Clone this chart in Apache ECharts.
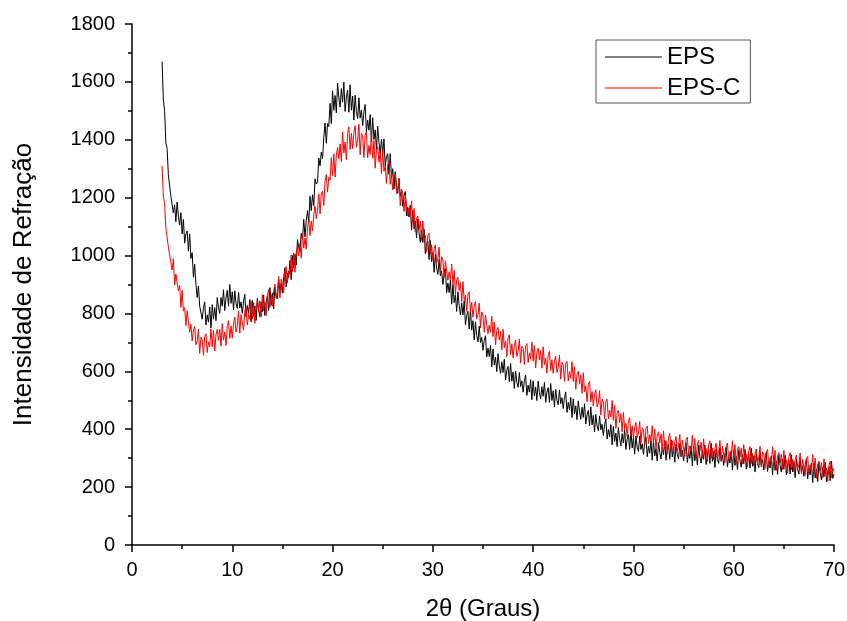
<!DOCTYPE html>
<html>
<head>
<meta charset="utf-8">
<script src="https://cdn.jsdelivr.net/npm/echarts@6/dist/echarts.min.js"></script>
<style>
  html, body { margin: 0; padding: 0; background: #fff; }
  #xrd-chart { width: 847px; height: 621px; }
</style>
</head>
<body>
<div id="xrd-chart"></div>
<script>
// scan grid: 2θ from 3 to 70 degrees, 8 readings per degree
var startAngle = 3;
var stepAngle = 0.125;

var seriesNames = ['EPS', 'EPS-C'];

// EPS, one line per degree (3 .. 69), then 70
var epsValues = [
    1670, 1540, 1500, 1390, 1370, 1280, 1275, 1205,
    1210, 1147, 1175, 1117, 1185, 1137, 1105, 1148,
    1075, 1125, 1043, 1075, 1085, 1015, 1075, 990,
    1010, 925, 970, 900, 855, 895, 825, 830,
    780, 820, 840, 760, 795, 770, 822, 750,
    830, 780, 820, 775, 855, 820, 800, 855,
    825, 882, 810, 853, 880, 825, 900, 835,
    875, 812, 878, 835, 817, 873, 819, 840,
    800, 843, 866, 789, 827, 800, 848, 771,
    845, 790, 826, 776, 852, 813, 789, 840,
    805, 864, 793, 837, 861, 810, 889, 828,
    870, 816, 892, 858, 850, 916, 872, 904,
    870, 924, 958, 892, 940, 924, 983, 917,
    1000, 957, 1005, 967, 1055, 1027, 1015, 1077,
    1055, 1125, 1065, 1120, 1155, 1115, 1205, 1155,
    1210, 1172, 1265, 1247, 1255, 1337, 1310, 1357,
    1334, 1408, 1458, 1388, 1456, 1446, 1526, 1456,
    1569, 1502, 1553, 1493, 1596, 1545, 1513, 1577,
    1530, 1599, 1498, 1548, 1571, 1495, 1590, 1502,
    1551, 1468, 1554, 1497, 1473, 1545, 1475, 1503,
    1449, 1497, 1522, 1426, 1468, 1433, 1487, 1392,
    1476, 1401, 1434, 1365, 1447, 1390, 1351, 1402,
    1353, 1403, 1310, 1341, 1352, 1281, 1352, 1269,
    1300, 1230, 1290, 1240, 1215, 1265, 1205, 1220,
    1170, 1206, 1221, 1137, 1167, 1133, 1174, 1089,
    1155, 1092, 1119, 1061, 1127, 1079, 1046, 1088,
    1045, 1091, 1007, 1039, 1050, 986, 1052, 979,
    1010, 942, 1005, 957, 935, 987, 930, 947,
    900, 937, 955, 872, 905, 872, 915, 832,
    900, 837, 865, 807, 875, 827, 795, 837,
    795, 843, 761, 794, 807, 746, 814, 742,
    775, 708, 771, 724, 702, 756, 699, 717,
    673, 707, 723, 650, 680, 651, 689, 616,
    677, 622, 649, 599, 661, 620, 593, 633,
    596, 642, 570, 603, 617, 564, 627, 566,
    598, 541, 601, 562, 545, 596, 547, 567,
    528, 566, 587, 517, 552, 528, 571, 502,
    567, 515, 546, 499, 566, 527, 504, 547,
    514, 562, 493, 528, 544, 493, 558, 499,
    533, 477, 538, 500, 484, 536, 488, 509,
    471, 509, 529, 458, 493, 467, 510, 440,
    505, 453, 481, 433, 498, 460, 434, 476,
    441, 488, 418, 450, 465, 412, 477, 415,
    448, 391, 451, 412, 395, 446, 398, 417,
    378, 416, 436, 366, 399, 373, 416, 346,
    410, 358, 387, 340, 406, 367, 342, 385,
    352, 399, 330, 365, 381, 330, 396, 335,
    370, 314, 376, 338, 323, 376, 330, 350,
    313, 353, 374, 305, 341, 317, 361, 293,
    359, 308, 332, 290, 354, 319, 297, 341,
    312, 361, 293, 329, 347, 296, 364, 304,
    340, 286, 348, 312, 297, 351, 305, 328,
    291, 331, 353, 285, 322, 299, 342, 273,
    341, 291, 322, 277, 345, 305, 283, 327,
    296, 345, 278, 313, 331, 282, 351, 289,
    324, 268, 331, 295, 282, 336, 290, 311,
    275, 315, 337, 270, 304, 283, 326, 259,
    325, 275, 306, 261, 329, 291, 269, 314,
    280, 330, 262, 297, 315, 266, 334, 272,
    308, 253, 316, 281, 267, 320, 274, 295,
    259, 299, 320, 254, 287, 266, 308, 242,
    309, 258, 290, 244, 312, 274, 252, 297,
    262, 310, 242, 276, 294, 245, 312, 253,
    288, 233, 296, 260, 245, 299, 252, 273,
    237, 277, 298, 229, 264, 242, 283, 216,
    283, 232, 263, 219, 285, 248, 225, 268,
    236, 285, 218, 253, 271, 222, 289, 230,
    245
];

// EPS-C, same grid
var epsCValues = [
    1310, 1205, 1180, 1095, 1100, 1030, 1035, 975,
    950, 989, 898, 936, 935, 878, 897, 821,
    880, 808, 820, 758, 810, 813, 735, 763,
    705, 742, 755, 692, 705, 746, 662, 718,
    710, 655, 720, 730, 665, 702, 685, 747,
    685, 742, 670, 727, 745, 707, 745, 687,
    765, 708, 736, 689, 757, 775, 714, 757,
    715, 764, 787, 736, 760, 809, 732, 796,
    795, 742, 810, 822, 760, 797, 780, 842,
    780, 838, 766, 824, 842, 806, 844, 787,
    865, 809, 839, 793, 862, 882, 821, 866,
    825, 876, 901, 852, 877, 928, 854, 919,
    920, 872, 945, 962, 905, 947, 935, 1002,
    945, 1009, 942, 1006, 1030, 999, 1042, 991,
    1075, 1026, 1061, 1022, 1097, 1123, 1069, 1119,
    1085, 1141, 1171, 1127, 1157, 1213, 1144, 1214,
    1222, 1173, 1257, 1280, 1219, 1270, 1260, 1338,
    1276, 1351, 1271, 1346, 1373, 1335, 1386, 1324,
    1427, 1354, 1392, 1332, 1421, 1445, 1366, 1423,
    1369, 1425, 1449, 1374, 1398, 1454, 1348, 1423,
    1414, 1339, 1419, 1427, 1338, 1380, 1349, 1423,
    1336, 1397, 1302, 1363, 1376, 1323, 1360, 1283,
    1364, 1291, 1312, 1249, 1314, 1324, 1246, 1283,
    1227, 1268, 1282, 1214, 1227, 1268, 1172, 1230,
    1215, 1152, 1209, 1211, 1137, 1164, 1136, 1188,
    1115, 1163, 1081, 1129, 1137, 1091, 1119, 1052,
    1120, 1052, 1070, 1012, 1070, 1077, 1005, 1037,
    985, 1024, 1037, 976, 990, 1029, 942, 996,
    985, 924, 982, 986, 915, 944, 917, 971,
    900, 949, 867, 916, 925, 879, 907, 841,
    910, 844, 863, 807, 866, 875, 804, 838,
    787, 827, 841, 781, 796, 836, 750, 805,
    795, 735, 795, 800, 730, 760, 735, 790,
    720, 771, 691, 742, 752, 708, 739, 674,
    745, 682, 704, 651, 714, 726, 658, 695,
    647, 690, 708, 651, 668, 711, 629, 687,
    680, 624, 687, 696, 630, 664, 642, 701,
    635, 689, 612, 666, 680, 639, 672, 611,
    685, 623, 646, 594, 656, 669, 602, 640,
    593, 636, 653, 596, 613, 656, 573, 631,
    623, 565, 627, 634, 567, 599, 576, 633,
    565, 616, 538, 589, 600, 556, 588, 524,
    595, 530, 550, 495, 555, 565, 495, 530,
    480, 521, 536, 477, 492, 533, 449, 504,
    495, 436, 497, 504, 435, 466, 442, 499,
    430, 482, 403, 455, 466, 423, 454, 391,
    458, 401, 421, 374, 429, 440, 379, 412,
    368, 407, 423, 371, 387, 427, 353, 405,
    398, 347, 404, 411, 351, 381, 360, 412,
    352, 400, 331, 379, 391, 353, 384, 327,
    394, 339, 360, 315, 372, 385, 325, 360,
    319, 358, 375, 325, 342, 382, 309, 362,
    357, 306, 365, 373, 313, 343, 324, 379,
    319, 368, 300, 349, 361, 324, 355, 300,
    367, 312, 334, 289, 346, 360, 300, 335,
    294, 334, 352, 303, 321, 361, 289, 341,
    335, 284, 343, 352, 292, 323, 304, 360,
    298, 347, 279, 327, 340, 304, 335, 281,
    347, 292, 314, 269, 326, 340, 281, 316,
    274, 314, 332, 283, 302, 342, 270, 322,
    315, 264, 322, 330, 271, 302, 285, 340,
    278, 327, 258, 307, 319, 283, 314, 261,
    327, 272, 294, 248, 305, 319, 260, 295,
    253, 293, 311, 261, 279, 318, 245, 296,
    292, 241, 298, 306, 246, 277, 258, 313,
    252, 300, 230, 279, 290, 256, 285, 231,
    298, 244, 266, 220, 276, 290, 232, 266,
    255
];

var xTicks = [0, 10, 20, 30, 40, 50, 60, 70];
var yTicks = [0, 200, 400, 600, 800, 1000, 1200, 1400, 1600, 1800];

function toPairs(values) {
    var out = [];
    for (var i = 0; i < values.length; i++) {
        out.push([startAngle + i * stepAngle, values[i]]);
    }
    return out;
}

var fontName = '"Liberation Sans", Arial, sans-serif';
var axisBlack = { color: '#000', width: 1.5 };

var myChart = echarts.init(document.getElementById('xrd-chart'), null, { renderer: 'canvas' });
var option = {
    animation: false,
    backgroundColor: '#fff',
    grid: { left: 132, right: 13, top: 24, bottom: 76, containLabel: false, outerBoundsMode: 'none' },
    legend: {
        orient: 'vertical',
        left: 596,
        top: 40,
        data: seriesNames,
        icon: 'rect',
        borderColor: '#555',
        borderWidth: 1,
        borderRadius: 0,
        padding: [5, 10, 3, 9],
        itemWidth: 57,
        itemHeight: 1,
        itemGap: 7,
        textStyle: { fontSize: 24, color: '#000', fontFamily: fontName }
    },
    xAxis: {
        type: 'value',
        min: xTicks[0],
        max: xTicks[xTicks.length - 1],
        interval: 10,
        name: '2θ (Graus)',
        nameLocation: 'middle',
        nameGap: 52,
        nameTextStyle: { fontSize: 24, color: '#000', fontFamily: fontName },
        axisLine: { lineStyle: axisBlack },
        axisTick: { inside: false, length: 7, lineStyle: axisBlack },
        minorTick: { show: true, splitNumber: 2, length: 4, lineStyle: axisBlack },
        axisLabel: { fontSize: 20, color: '#000', margin: 15, fontFamily: fontName },
        splitLine: { show: false }
    },
    yAxis: {
        type: 'value',
        min: yTicks[0],
        max: yTicks[yTicks.length - 1],
        interval: 200,
        name: 'Intensidade de Refração',
        nameLocation: 'middle',
        nameGap: 95,
        nameTextStyle: { fontSize: 26, color: '#000', fontFamily: fontName },
        axisLine: { show: true, lineStyle: axisBlack },
        axisTick: { show: true, inside: false, length: 7, lineStyle: axisBlack },
        minorTick: { show: true, splitNumber: 2, length: 4, lineStyle: axisBlack },
        axisLabel: {
            fontSize: 20, color: '#000', margin: 17, fontFamily: fontName,
            formatter: function (v) { return String(v); }
        },
        splitLine: { show: false }
    },
    series: [
        {
            name: seriesNames[0],
            type: 'line',
            showSymbol: false,
            symbol: 'none',
            color: '#000',
            lineStyle: { width: 1, color: '#000' },
            data: toPairs(epsValues)
        },
        {
            name: seriesNames[1],
            type: 'line',
            showSymbol: false,
            symbol: 'none',
            color: '#ff0000',
            lineStyle: { width: 1, color: '#ff0000' },
            data: toPairs(epsCValues)
        }
    ]
};
myChart.setOption(option);
</script>
</body>
</html>
